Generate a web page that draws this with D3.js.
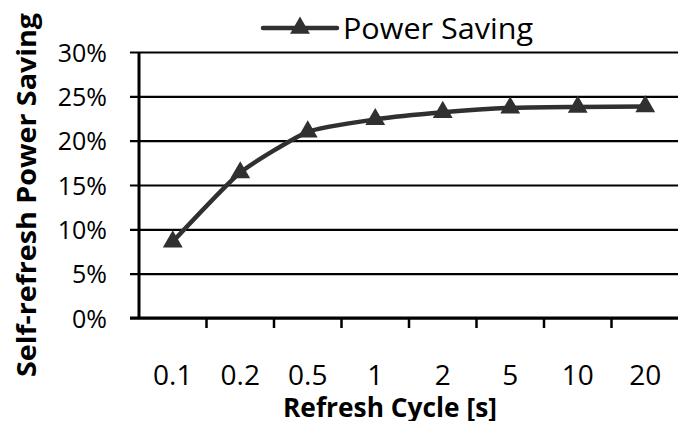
<!DOCTYPE html>
<html>
<head>
<meta charset="utf-8">
<script src="https://cdn.jsdelivr.net/npm/d3@7"></script>
<style>
  body { margin: 0; background: #fff; }
  svg { display: block; font-family: "Open Sans", "Noto Sans", sans-serif; }
</style>
</head>
<body>
<div id="chart"></div>
<script>
// refresh cycles (s) and the measured saving
const cycles = ["0.1", "0.2", "0.5", "1", "2", "5", "10", "20"];
const saving = [0.086, 0.164, 0.210, 0.224, 0.232, 0.237, 0.238, 0.2385];
const yTicks = [0, 0.05, 0.10, 0.15, 0.20, 0.25, 0.30];
const seriesName = "Power Saving";

const width = 678, height = 421;
const margin = {top: 52, right: -1, bottom: 103, left: 139};
const innerWidth = width - margin.left - margin.right,
      innerHeight = height - margin.top - margin.bottom;
const fontFamily = '"Open Sans", "Noto Sans", sans-serif';

const svg = d3.select("#chart").append("svg")
  .attr("width", width)
  .attr("height", height);

const g = svg.append("g")
  .attr("transform", `translate(${margin.left},${margin.top})`);

const x = d3.scaleBand().domain(cycles).range([0, innerWidth]).padding(0);
const y = d3.scaleLinear().domain([0, 0.30]).range([innerHeight, 0]);

const ink = "#303030";

// gridlines + y axis
const yAxis = d3.axisLeft(y)
  .tickValues(yTicks)
  .tickFormat(d3.format(".0%"))
  .tickSizeOuter(0);

const gy = g.append("g").attr("class", "y axis")
  .call(yAxis)
  .attr("font-family", fontFamily);
gy.select(".domain").remove();
gy.selectAll(".tick line")
  .attr("x1", -9)
  .attr("x2", innerWidth)
  .attr("stroke", "#000")
  .attr("stroke-width", 2.2);
gy.selectAll(".tick text")
  .attr("x", -32)
  .attr("dy", "0.36em")
  .attr("fill", "#000")
  .style("font-size", "25px");

// vertical axis line
g.append("line")
  .attr("x1", 0).attr("x2", 0)
  .attr("y1", 0).attr("y2", innerHeight)
  .attr("stroke", "#000").attr("stroke-width", 3);

// x axis: labels at band centres, ticks at band boundaries
const xAxis = d3.axisBottom(x).tickSize(0).tickPadding(0);
const gx = g.append("g").attr("class", "x axis")
  .attr("transform", `translate(0,${innerHeight})`)
  .call(xAxis)
  .attr("font-family", fontFamily);
gx.select(".domain").remove();
gx.selectAll(".tick text")
  .attr("y", 67)
  .attr("dy", 0)
  .attr("fill", "#000")
  .style("font-size", "28px");

g.append("line")
  .attr("x1", -9).attr("x2", innerWidth)
  .attr("y1", innerHeight).attr("y2", innerHeight)
  .attr("stroke", "#000").attr("stroke-width", 3.2);

g.append("g").selectAll("line")
  .data(cycles.slice(1))
  .enter().append("line")
    .attr("x1", d => x(d)).attr("x2", d => x(d))
    .attr("y1", innerHeight).attr("y2", innerHeight + 10)
    .attr("stroke", "#000").attr("stroke-width", 2.5);

// the series line (smoothed like the spreadsheet original)
const line = d3.line()
  .x((d, i) => x(cycles[i]) + x.bandwidth() / 2)
  .y(d => y(d))
  .curve(d3.curveCardinal.tension(0.5));

g.append("path")
  .datum(saving)
  .attr("fill", "none")
  .attr("stroke", ink)
  .attr("stroke-width", 4.5)
  .attr("stroke-linejoin", "round")
  .attr("d", line);

const tri = d3.symbol().type(d3.symbolTriangle).size(170);

g.selectAll(".marker")
  .data(saving)
  .enter().append("path")
    .attr("class", "marker")
    .attr("d", tri)
    .attr("transform", (d, i) => `translate(${x(cycles[i]) + x.bandwidth() / 2},${y(d)})`)
    .attr("fill", ink);

// legend
const legend = svg.append("g").attr("transform", "translate(263,28)");
legend.append("line")
  .attr("x1", 0).attr("x2", 74)
  .attr("stroke", ink).attr("stroke-width", 4.5)
  .attr("stroke-linecap", "round");
legend.append("path")
  .attr("d", tri)
  .attr("transform", "translate(37,0)")
  .attr("fill", ink);
legend.append("text")
  .attr("x", 80).attr("y", 11)
  .style("font-size", "29px")
  .attr("fill", "#000")
  .attr("textLength", 190)
  .attr("lengthAdjust", "spacingAndGlyphs")
  .text(seriesName);

// axis titles
svg.append("text")
  .attr("transform", "translate(36,195) rotate(-90)")
  .attr("text-anchor", "middle")
  .style("font-size", "27px")
  .style("font-weight", "bold")
  .attr("textLength", 364)
  .attr("lengthAdjust", "spacingAndGlyphs")
  .text("Self-refresh Power Saving");

svg.append("text")
  .attr("x", 390).attr("y", 417)
  .attr("text-anchor", "middle")
  .style("font-size", "26px")
  .style("font-weight", "bold")
  .attr("textLength", 214)
  .attr("lengthAdjust", "spacingAndGlyphs")
  .text("Refresh Cycle [s]");
</script>
</body>
</html>
